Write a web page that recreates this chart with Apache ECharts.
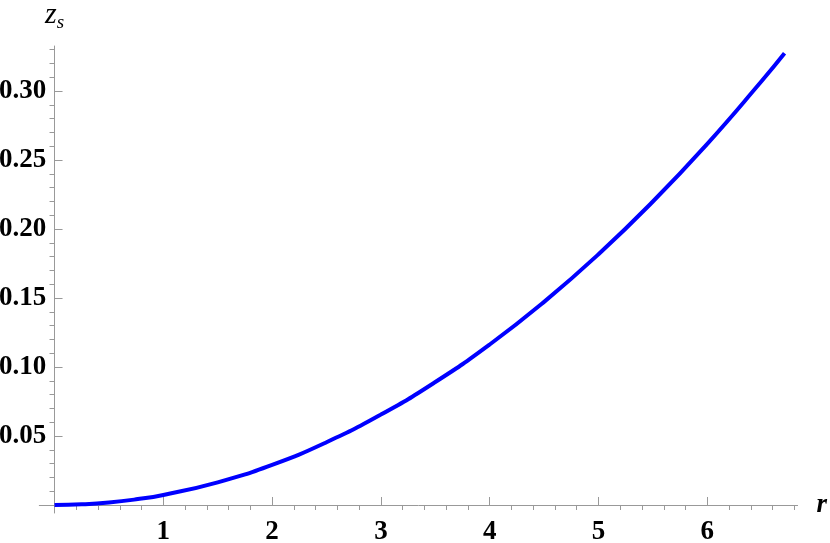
<!DOCTYPE html>
<html>
<head>
<meta charset="utf-8">
<script src="https://cdn.jsdelivr.net/npm/echarts@6/dist/echarts.min.js"></script>
<style>html,body{margin:0;padding:0;background:#fff}#c{width:830px;height:543px}</style>
</head>
<body>
<div id="c"></div>
<script>
// data
var rValues = [0, 0.25, 0.5, 0.75, 1, 1.5, 2, 2.5, 3, 3.5, 4, 4.5, 5, 5.5, 6, 6.5, 6.71];
var zValues = [0, 0.0005, 0.0018, 0.0041, 0.0073, 0.0164, 0.0291, 0.0455, 0.0655, 0.0891, 0.1163, 0.1472, 0.1817, 0.2199, 0.2617, 0.3072, 0.3273];
var xMajorTicks = [1, 2, 3, 4, 5, 6];
var xMinorTicks = [0.2, 0.4, 0.6, 0.8, 1.2, 1.4, 1.6, 1.8, 2.2, 2.4, 2.6, 2.8, 3.2, 3.4, 3.6, 3.8, 4.2, 4.4, 4.6, 4.8, 5.2, 5.4, 5.6, 5.8, 6.2, 6.4, 6.6, 6.8];
var yMajorTicks = [0.05, 0.10, 0.15, 0.20, 0.25, 0.30];
var yMinorTicks = [0.01, 0.02, 0.03, 0.04, 0.06, 0.07, 0.08, 0.09, 0.11, 0.12, 0.13, 0.14, 0.16, 0.17, 0.18, 0.19, 0.21, 0.22, 0.23, 0.24, 0.26, 0.27, 0.28, 0.29, 0.31, 0.32, 0.33];
var xLabel = 'r';
var yLabelMain = 'z';
var yLabelSub = 's';

var axisColor = '#999999';
var labelFont = {fontFamily: 'Liberation Serif', fontWeight: 'bold', fontSize: 27, color: '#000'};
var X_MIN = -0.14, X_MAX = 6.83, Y_MIN = -0.0058, Y_MAX = 0.3326;

var chart = echarts.init(document.getElementById('c'), null, {renderer: 'canvas'});
chart.setOption({
  animation: false,
  backgroundColor: '#fff',
  grid: {left: 39.3, right: 32.4, top: 46, bottom: 30, containLabel: false, outerBoundsMode: 'none'},
  xAxis: [{
    type: 'value', min: X_MIN, max: X_MAX,
    axisLine: {show: true, onZero: true, lineStyle: {color: axisColor, width: 1}},
    axisTick: {show: true, inside: true, length: 8, customValues: xMajorTicks, lineStyle: {color: axisColor}},
    axisLabel: Object.assign({show: true, customValues: xMajorTicks, margin: 6, hideOverlap: false, formatter: function(v){return String(v);}}, labelFont),
    splitLine: {show: false},
    name: xLabel, nameLocation: 'end', nameGap: 19,
    nameTextStyle: {fontFamily: 'Liberation Serif', fontWeight: 'bold', fontStyle: 'italic', fontSize: 27, color: '#000', padding: [0, 0, 14, 0]}
  }, {
    type: 'value', min: X_MIN, max: X_MAX,
    axisLine: {show: false, onZero: true},
    axisTick: {show: true, inside: true, length: 5, customValues: xMinorTicks, lineStyle: {color: axisColor}},
    axisLabel: {show: false},
    splitLine: {show: false}
  }],
  yAxis: [{
    type: 'value', min: Y_MIN, max: Y_MAX,
    axisLine: {show: true, onZero: true, lineStyle: {color: axisColor, width: 1}},
    axisTick: {show: true, inside: true, length: 8, customValues: yMajorTicks, lineStyle: {color: axisColor}},
    axisLabel: Object.assign({show: true, customValues: yMajorTicks, margin: -7, hideOverlap: false, formatter: function(v){return v.toFixed(2);}}, labelFont),
    splitLine: {show: false},
    name: '{z|' + yLabelMain + '}{s|' + yLabelSub + '}', nameLocation: 'end', nameGap: 14,
    nameTextStyle: {
      rich: {
        z: {fontFamily: 'Liberation Serif', fontStyle: 'italic', fontSize: 30, color: '#000'},
        s: {fontFamily: 'Liberation Serif', fontStyle: 'italic', fontSize: 19, color: '#000', padding: [14, 0, 0, 0]}
      }
    }
  }, {
    type: 'value', min: Y_MIN, max: Y_MAX,
    axisLine: {show: false, onZero: true},
    axisTick: {show: true, inside: true, length: 5, customValues: yMinorTicks, lineStyle: {color: axisColor}},
    axisLabel: {show: false},
    splitLine: {show: false}
  }],
  series: [{
    type: 'line',
    xAxisIndex: 0, yAxisIndex: 0,
    data: rValues.map(function(r, i){return [r, zValues[i]];}),
    smooth: true,
    showSymbol: false,
    lineStyle: {color: '#0000ff', width: 4},
    z: 5
  }]
});
</script>
</body>
</html>
